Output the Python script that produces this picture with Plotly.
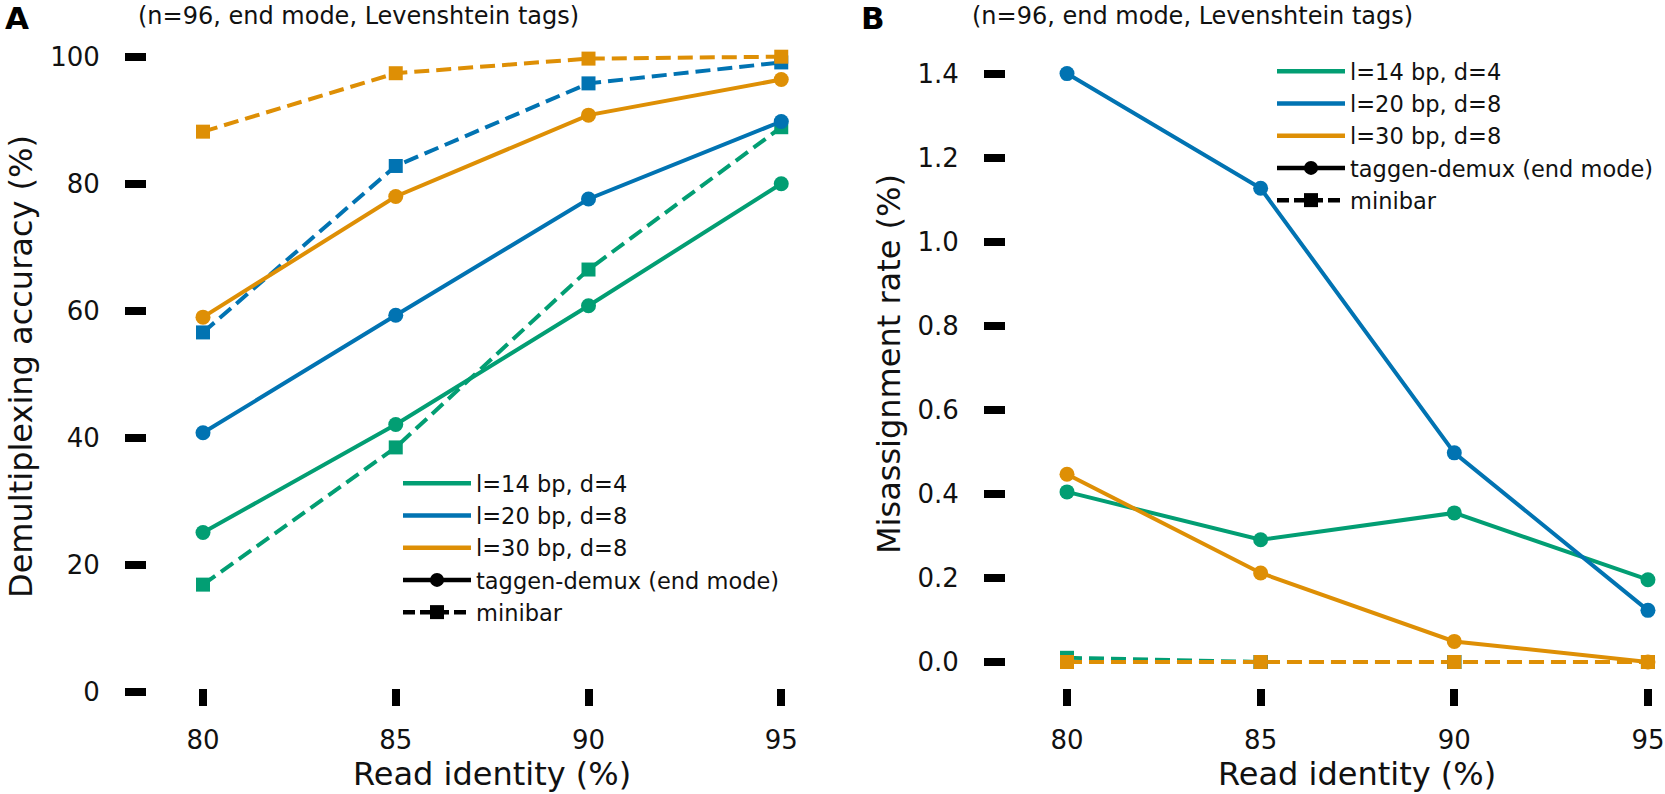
import plotly.graph_objects as go

# ---------------- data ----------------
identity = [80, 85, 90, 95]
configs = ["l=14 bp, d=4", "l=20 bp, d=8", "l=30 bp, d=8"]
colors = ["#029e73", "#0173b2", "#de8f05"]

acc_taggen_14 = [25.1, 42.1, 60.8, 80.0]
acc_taggen_20 = [40.8, 59.3, 77.6, 89.8]
acc_taggen_30 = [59.0, 78.0, 90.8, 96.4]
acc_minibar_14 = [16.9, 38.5, 66.5, 88.9]
acc_minibar_20 = [56.6, 82.8, 95.8, 99.1]
acc_minibar_30 = [88.2, 97.4, 99.7, 100.0]

mis_taggen_14 = [0.405, 0.291, 0.355, 0.196]
mis_taggen_20 = [1.401, 1.128, 0.498, 0.123]
mis_taggen_30 = [0.447, 0.212, 0.049, 0.0]
mis_minibar_14 = [0.01, 0.0, 0.0, 0.0]
mis_minibar_20 = [0.0, 0.0, 0.0, 0.0]
mis_minibar_30 = [0.0, 0.0, 0.0, 0.0]

acc_taggen = [acc_taggen_14, acc_taggen_20, acc_taggen_30]
acc_minibar = [acc_minibar_14, acc_minibar_20, acc_minibar_30]
mis_taggen = [mis_taggen_14, mis_taggen_20, mis_taggen_30]
mis_minibar = [mis_minibar_14, mis_minibar_20, mis_minibar_30]

x_ticks = [80, 85, 90, 95]
acc_ticks = [0, 20, 40, 60, 80, 100]
mis_ticks = [0.0, 0.2, 0.4, 0.6, 0.8, 1.0, 1.2, 1.4]

panel_subtitle = "(n=96, end mode, Levenshtein tags)"
methods = ["taggen-demux (end mode)", "minibar"]
x_title = "Read identity (%)"
y_titles = ["Demultiplexing accuracy (%)", "Misassignment rate (%)"]

# ---------------- figure ----------------
W, H = 1665, 794
FONT = "DejaVu Sans"
TXT = "#111111"
LW = 4
DASH = "15px,7px"

fig = go.Figure()


def add_panel(xa, ya, taggen, minibar):
    for i in range(3):
        fig.add_trace(go.Scatter(
            x=identity, y=taggen[i], xaxis=xa, yaxis=ya, mode="lines+markers",
            line=dict(color=colors[i], width=LW),
            marker=dict(symbol="circle", size=15, color=colors[i]),
            showlegend=False, hoverinfo="skip"))
        fig.add_trace(go.Scatter(
            x=identity, y=minibar[i], xaxis=xa, yaxis=ya, mode="lines+markers",
            line=dict(color=colors[i], width=LW, dash=DASH),
            marker=dict(symbol="square", size=14, color=colors[i]),
            showlegend=False, hoverinfo="skip"))


add_panel("x", "y", acc_taggen, acc_minibar)
add_panel("x2", "y2", mis_taggen, mis_minibar)

# legend entries
for leg, xa, ya in [("legend", "x", "y"), ("legend2", "x2", "y2")]:
    for i in range(3):
        fig.add_trace(go.Scatter(
            x=[None], y=[None], xaxis=xa, yaxis=ya, mode="lines",
            line=dict(color=colors[i], width=4.5), name=configs[i],
            legend=leg, showlegend=True))
    fig.add_trace(go.Scatter(
        x=[None], y=[None], xaxis=xa, yaxis=ya, mode="lines+markers",
        line=dict(color="black", width=4.5),
        marker=dict(symbol="circle", size=14, color="black"),
        name=methods[0], legend=leg, showlegend=True))
    fig.add_trace(go.Scatter(
        x=[None], y=[None], xaxis=xa, yaxis=ya, mode="lines+markers",
        line=dict(color="black", width=4.5, dash="12px,5px"),
        marker=dict(symbol="square", size=14, color="black"),
        name=methods[1], legend=leg, showlegend=True))


def px_x(p):
    return p / W


def px_y(p):
    return (H - p) / H


# pixel geometry (window pixels)
A_left, A_right = 147, 800
B_left, B_right = 1006, 1664
TOP = 40
A_bottom, B_bottom = 693, 688
A_x80, A_ppu = 203, 38.55
B_x80, B_ppu = 1067, 38.73
A_y0, A_ppu_y = 692, 6.353
B_y0, B_ppu_y = 662, 420.0

A_xr = [80 - (A_x80 - A_left) / A_ppu, 80 + (A_right - A_x80) / A_ppu]
B_xr = [80 - (B_x80 - B_left) / B_ppu, 80 + (B_right - B_x80) / B_ppu]
A_yr = [-(A_bottom - A_y0) / A_ppu_y, (A_y0 - TOP) / A_ppu_y]
B_yr = [-(B_bottom - B_y0) / B_ppu_y, (B_y0 - TOP) / B_ppu_y]

tick_font = dict(family=FONT, size=26, color=TXT)
title_font = dict(family=FONT, size=32, color=TXT)

x_common = dict(ticks="outside", ticklen=17, tickwidth=7.5, tickcolor="black",
                showline=False, showgrid=False, zeroline=False,
                tickfont=tick_font, automargin=False, tickvals=x_ticks,
                ticklabelstandoff=12)
y_common = dict(ticks="outside", ticklen=21, tickwidth=8, tickcolor="black",
                showline=False, showgrid=False, zeroline=False,
                tickfont=tick_font, automargin=False, ticklabelstandoff=20)

fig.update_layout(
    width=W, height=H,
    margin=dict(l=0, r=0, t=0, b=0),
    paper_bgcolor="white", plot_bgcolor="white",
    font=dict(family=FONT, color=TXT),
    template="none",
    xaxis=dict(domain=[px_x(A_left), px_x(A_right)], range=A_xr,
               anchor="free", position=px_y(B_bottom), **x_common),
    yaxis=dict(domain=[px_y(A_bottom), px_y(TOP)], range=A_yr, tickvals=acc_ticks,
               title=dict(text=y_titles[0], font=title_font, standoff=7),
               **y_common),
    xaxis2=dict(domain=[px_x(B_left), px_x(B_right)], range=B_xr, anchor="y2",
                **x_common),
    yaxis2=dict(domain=[px_y(B_bottom), px_y(TOP)], range=B_yr, tickvals=mis_ticks,
                tickformat=".1f", anchor="x2",
                title=dict(text=y_titles[1], font=title_font, standoff=7),
                **y_common),
    legend=dict(x=px_x(398), y=px_y(462), xanchor="left", yanchor="top",
                bgcolor="rgba(0,0,0,0)", font=dict(family=FONT, size=22.5, color=TXT),
                itemwidth=68, tracegroupgap=0),
    legend2=dict(x=px_x(1272), y=px_y(50), xanchor="left", yanchor="top",
                 bgcolor="rgba(0,0,0,0)", font=dict(family=FONT, size=22.5, color=TXT),
                 itemwidth=68, tracegroupgap=0),
)

# x-axis titles centred on the middle of the identity range
for xa in ["x", "x2"]:
    fig.add_annotation(text=x_title, x=(identity[0] + identity[-1]) / 2, xref=xa,
                       y=px_y(774), yref="paper", xanchor="center", yanchor="middle",
                       showarrow=False, font=title_font)

# panel letters and subtitles
for letter, xl, xs in [("A", 3, 136), ("B", 859, 970)]:
    fig.add_annotation(text="<b>%s</b>" % letter, x=px_x(xl), y=px_y(18), xref="paper", yref="paper",
                       xanchor="left", yanchor="middle", showarrow=False,
                       font=dict(family=FONT, size=31, color="black"))
    fig.add_annotation(text=panel_subtitle, x=px_x(xs), y=px_y(16), xref="paper", yref="paper",
                       xanchor="left", yanchor="middle", showarrow=False,
                       font=dict(family=FONT, size=24, color=TXT))

fig.write_html("out.html", config={"displayModeBar": False},
               post_script="document.body.style.margin='0px';")
